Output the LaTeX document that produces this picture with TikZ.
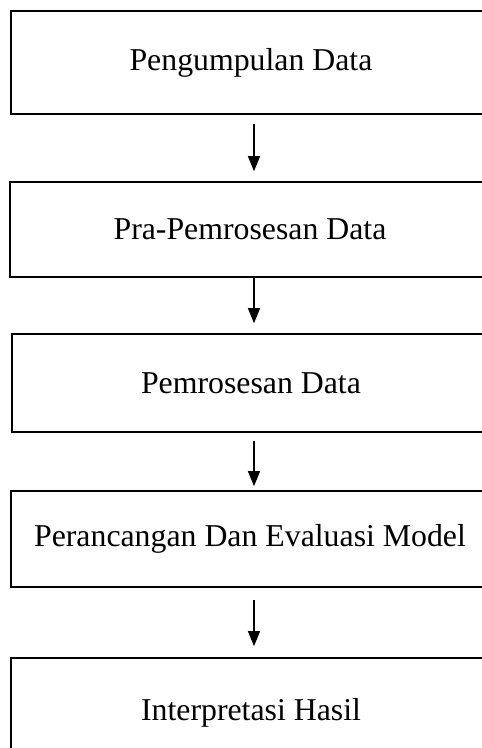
\documentclass[tikz,border=0pt]{standalone}
\usepackage{fontspec}
\setmainfont{Liberation Serif}
\usetikzlibrary{calc,arrows.meta}
\tikzset{stage/.style={draw,line width=1.6pt,inner sep=0pt,minimum width=480pt,font=\fontsize{31.8}{36}\selectfont},
  flow/.style={-{Triangle[width=12pt,length=15pt]},line width=1.3pt}}

\begin{document}
\begin{tikzpicture}[x=1pt,y=-1pt]
\useasboundingbox (0,0) rectangle (482,748);
\clip (0,0) rectangle (482,748);
\node[stage,minimum height=103pt] (s1) at (251,62.5) {Pengumpulan Data};
\node[stage,minimum height=95pt] (s2) at (250,229.5) {Pra-Pemrosesan Data};
\node[stage,minimum width=478pt,minimum height=98pt] (s3) at (251,383) {Pemrosesan Data};
\node[stage,minimum width=478pt,minimum height=96pt] (s4) at (250,539) {Perancangan Dan Evaluasi Model};
\node[stage,minimum height=110pt] (s5) at (251,713) {Interpretasi Hasil};
\draw[flow,shorten <=9pt,shorten >=10pt] ($(s1.south)+(3,0)$) -- ($(s2.north)+(4,0)$);
\draw[flow,shorten >=10pt] ($(s2.south)+(4,0)$) -- ($(s3.north)+(3,0)$);
\draw[flow,shorten <=8pt,shorten >=4pt] ($(s3.south)+(3,0)$) -- ($(s4.north)+(4,0)$);
\draw[flow,shorten <=12pt,shorten >=11pt] ($(s4.south)+(4,0)$) -- ($(s5.north)+(3,0)$);
\end{tikzpicture}
\end{document}
